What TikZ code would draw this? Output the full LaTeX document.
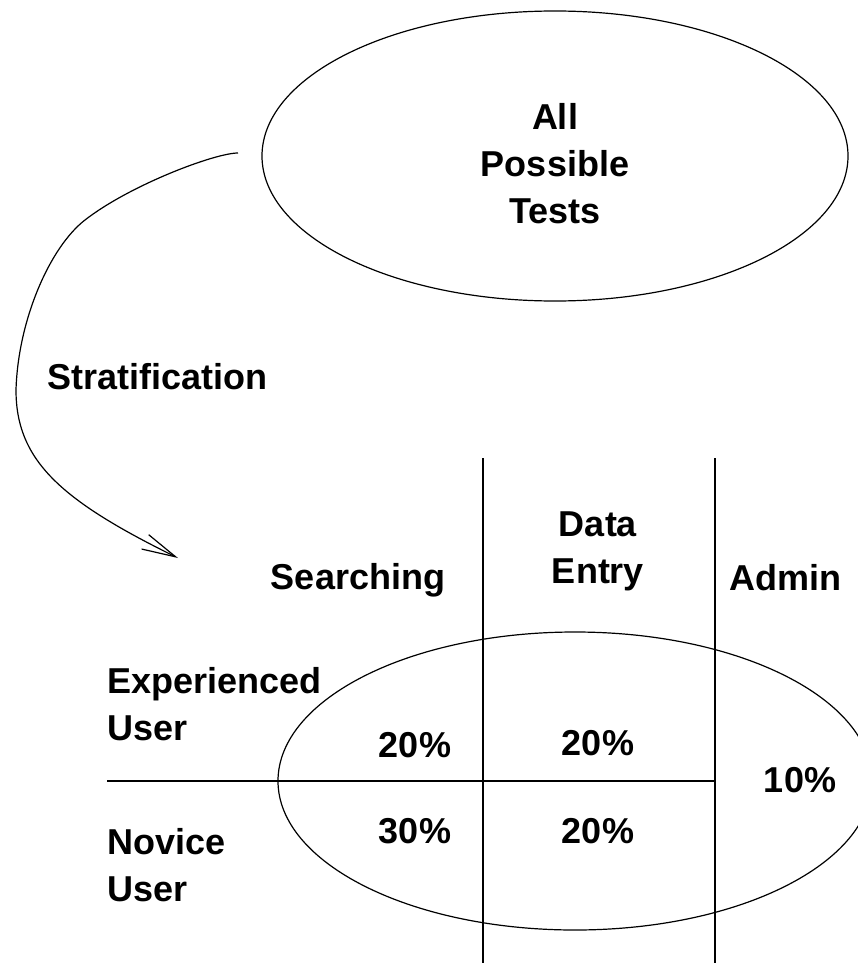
\documentclass[tikz,border=0pt]{standalone}
\usepackage{fontspec}
\setmainfont{Liberation Sans}
\usepackage{tikz}
\usetikzlibrary{shapes.geometric,arrows.meta}

\begin{document}
\begin{tikzpicture}[x=1pt,y=-1pt,line width=1.2pt,
							every node/.style={font=\bfseries\fontsize{36}{47}\selectfont,inner sep=0pt,align=center},
							oval/.style={ellipse,draw,minimum width=586pt,minimum height=290pt},
							lbl/.style={anchor=west,align=left}]
			\useasboundingbox (0,0) rectangle (857,963);
			% population of tests
			\node[oval] (all) at (555,156) {};
			\node (alltxt) at (555,164) {All\\Possible\\Tests};
			% stratified sample
			\node[oval,minimum width=594pt,minimum height=298pt] (strata) at (575,781) {};
			\coordinate (c1top) at (483,458);
			\coordinate (c1bot) at (483,963);
			\coordinate (c2top) at (715,458);
			\coordinate (c2bot) at (715,963);
			\coordinate (rowl) at (107,781);
			\coordinate (rowr) at (715,781);
			\draw (c1top) -- (c1bot);
			\draw (c2top) -- (c2bot);
			\draw (rowl) -- (rowr);
			% headers
			\node (search) at (358,580) {Searching};
			\node (entry) at (598,551) {Data\\Entry};
			\node (admin) at (785,578) {Admin};
			\node[lbl] (exp) at (107,704) {Experienced\\User};
			\node[lbl] (nov) at (107,865) {Novice\\User};
			% shares
			\node (p1) at (415,745) {20\%};
			\node (p2) at (598,743) {20\%};
			\node (p3) at (415,831) {30\%};
			\node (p4) at (598,831) {20\%};
			\node (p5) at (800,780) {10\%};
			% stratification arrow
			\node[lbl] (strat) at (47,377) {Stratification};
			\coordinate (from) at (238,153);
			\coordinate (to) at (178,558);
			\draw[-{Straight Barb[length=34pt,width=16pt]}] (from) .. controls (215,153) and (130,185) .. (85,220)
				.. controls (50,247) and (18,320) .. (16,390)
				.. controls (16,460) and (60,500) .. (to);
		\end{tikzpicture}
\end{document}
